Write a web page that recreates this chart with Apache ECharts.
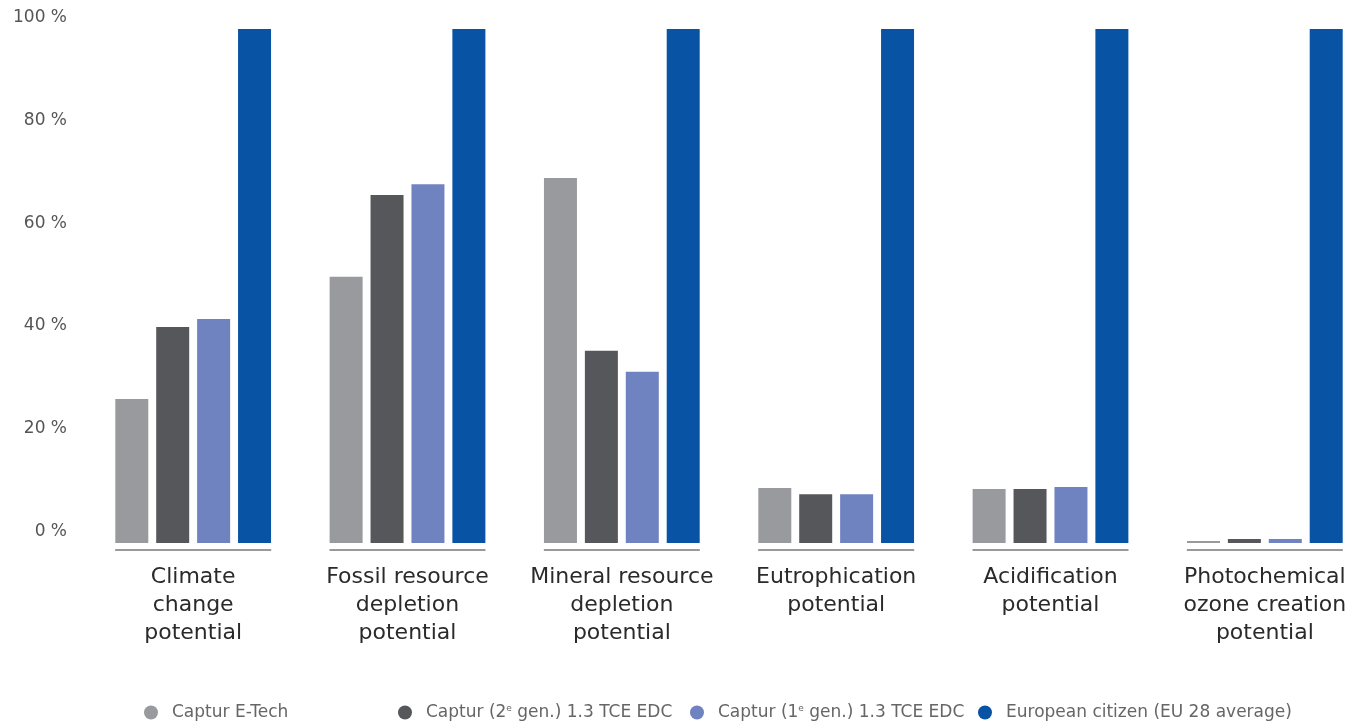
<!DOCTYPE html>
<html>
<head>
<meta charset="utf-8">
<script src="https://cdn.jsdelivr.net/npm/echarts@6/dist/echarts.min.js"></script>
<style>html,body{margin:0;padding:0;background:#fff}#main{width:1362px;height:724px}</style>
</head>
<body>
<div id="main"></div>
<script>
var categories = ['Climate\nchange\npotential', 'Fossil resource\ndepletion\npotential', 'Mineral resource\ndepletion\npotential', 'Eutrophication\npotential', 'Acidification\npotential', 'Photochemical\nozone creation\npotential'];
var seriesNames = ['Captur E-Tech', 'Captur (2e gen.) 1.3 TCE EDC', 'Captur (1e gen.) 1.3 TCE EDC', 'European citizen (EU 28 average)'];
var etech = [28, 51.8, 71, 10.7, 10.5, 0.4];
var gen2 = [42, 67.7, 37.4, 9.5, 10.5, 0.8];
var gen1 = [43.6, 69.8, 33.3, 9.5, 10.9, 0.8];
var euCitizen = [100, 100, 100, 100, 100, 100];
var colors = ['#999a9e', '#56575a', '#6f83c0', '#0953a5'];
var legendLeft = [144, 398, 690, 978];

var FONT = 'DejaVu Sans';
var chart = echarts.init(document.getElementById('main'));

function bar(i, data) {
    return {
        name: seriesNames[i], type: 'bar', data: data,
        barWidth: 33, barGap: '24%',
        itemStyle: {color: colors[i]},
        emphasis: {disabled: true}
    };
}

var legends = seriesNames.map(function (n, i) {
    return {
        data: [n], left: legendLeft[i], top: 704, padding: 0,
        icon: 'circle', itemWidth: 14, itemHeight: 14,
        selectedMode: false,
        formatter: function (name) {
            return name.replace(/\((\d)e gen/, '($1{sup|e} gen');
        },
        textStyle: {
            fontFamily: FONT, fontSize: 17, color: '#666', padding: [0, 0, 0, 9],
            rich: {sup: {fontSize: 9, color: '#666', fontFamily: FONT, padding: [0, 0, 8, 0]}}
        }
    };
});

var option = {
    backgroundColor: '#fff',
    animation: false,
    legend: legends,
    grid: {left: 86, width: 1286, top: 29, bottom: 181, containLabel: false, outerBoundsMode: 'none'},
    xAxis: {
        type: 'category', data: categories,
        axisLine: {show: false}, axisTick: {show: false},
        axisLabel: {
            interval: 0, margin: 20, fontFamily: FONT, fontSize: 22,
            lineHeight: 28, color: '#2a2a2a', align: 'center'
        }
    },
    yAxis: {
        type: 'value', min: 0, max: 100, interval: 20,
        axisLine: {show: false}, axisTick: {show: false}, splitLine: {show: false},
        axisLabel: {
            margin: 19, fontFamily: FONT, fontSize: 17, color: '#555',
            formatter: '{value} %', verticalAlign: 'bottom', padding: [0, 0, 3, 0]
        }
    },
    series: [
        bar(0, etech), bar(1, gen2), bar(2, gen1), bar(3, euCitizen),
        {
            type: 'custom', silent: true,
            data: categories.map(function (c, i) { return [i, 0]; }),
            renderItem: function (params, api) {
                var p = api.coord([api.value(0), 0]);
                var half = 78;
                return {
                    type: 'line',
                    shape: {x1: p[0] - half, y1: p[1] + 7, x2: p[0] + half, y2: p[1] + 7},
                    style: {stroke: '#999', lineWidth: 2}
                };
            }
        }
    ]
};
chart.setOption(option);
</script>
</body>
</html>
